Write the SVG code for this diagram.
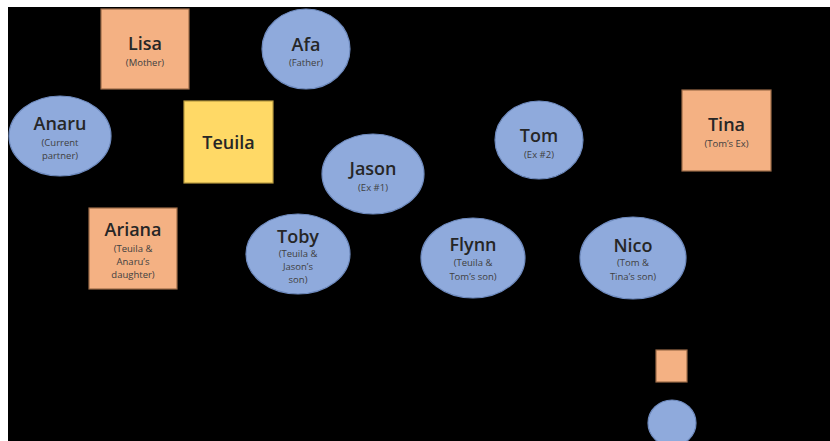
<svg xmlns="http://www.w3.org/2000/svg" width="830" height="441" viewBox="0 0 830 441">
<style>
.sq{fill:#F4B183;stroke:#9C6B48;stroke-width:1.2}
.yl{fill:#FFD966;stroke:#B89A40;stroke-width:1.2}
.el{fill:#8FAADC;stroke:#6F8BBF;stroke-width:1.2}
.t{font-family:"Open Sans","Liberation Sans",Arial,sans-serif;font-size:18px;font-weight:600;fill:#262626;text-anchor:middle}
.s{font-family:"Open Sans","Liberation Sans",Arial,sans-serif;font-size:9.5px;fill:#404040;text-anchor:middle}
</style>
<rect x="0" y="0" width="830" height="441" fill="#ffffff"/>
<rect x="8" y="7" width="822" height="434" fill="#000000"/>
<g id="connectors"></g>
<g id="lisa"><rect class="sq" x="101" y="9" width="88" height="80"/><text class="t" x="145" y="50">Lisa</text><text class="s" x="145" y="66">(Mother)</text></g>
<g id="afa"><ellipse class="el" cx="306" cy="49" rx="44" ry="40"/><text class="t" x="306" y="51">Afa</text><text class="s" x="306" y="66">(Father)</text></g>
<g id="anaru"><ellipse class="el" cx="60" cy="136" rx="51" ry="40"/><text class="t" x="60" y="130">Anaru</text><text class="s" x="60" y="146">(Current</text><text class="s" x="60" y="159">partner)</text></g>
<g id="teuila"><rect class="yl" x="184" y="101" width="89" height="82"/><text class="t" x="228.500" y="149">Teuila</text></g>
<g id="jason"><ellipse class="el" cx="373" cy="174" rx="51" ry="40"/><text class="t" x="373" y="175">Jason</text><text class="s" x="373" y="191">(Ex #1)</text></g>
<g id="tom"><ellipse class="el" cx="539" cy="140" rx="44" ry="39"/><text class="t" x="539" y="142">Tom</text><text class="s" x="539" y="158">(Ex #2)</text></g>
<g id="tina"><rect class="sq" x="682" y="90" width="89" height="81"/><text class="t" x="726.500" y="131">Tina</text><text class="s" x="726.500" y="147">(Tom’s Ex)</text></g>
<g id="ariana"><rect class="sq" x="89" y="208" width="88" height="81"/><text class="t" x="133" y="236">Ariana</text><text class="s" x="133" y="252">(Teuila &amp;</text><text class="s" x="133" y="265">Anaru’s</text><text class="s" x="133" y="278">daughter)</text></g>
<g id="toby"><ellipse class="el" cx="298" cy="254" rx="52" ry="40"/><text class="t" x="298" y="243">Toby</text><text class="s" x="298" y="257">(Teuila &amp;</text><text class="s" x="298" y="270">Jason’s</text><text class="s" x="298" y="283">son)</text></g>
<g id="flynn"><ellipse class="el" cx="473" cy="258" rx="52" ry="40"/><text class="t" x="473" y="251">Flynn</text><text class="s" x="473" y="266">(Teuila &amp;</text><text class="s" x="473" y="280">Tom’s son)</text></g>
<g id="nico"><ellipse class="el" cx="633" cy="258" rx="53" ry="41"/><text class="t" x="633" y="252">Nico</text><text class="s" x="633" y="266">(Tom &amp;</text><text class="s" x="633" y="280">Tina’s son)</text></g>
<g id="legend-square"><rect class="sq" x="656" y="350" width="31" height="32"/></g>
<g id="legend-circle"><ellipse class="el" cx="672" cy="423" rx="24" ry="23"/></g>
</svg>
